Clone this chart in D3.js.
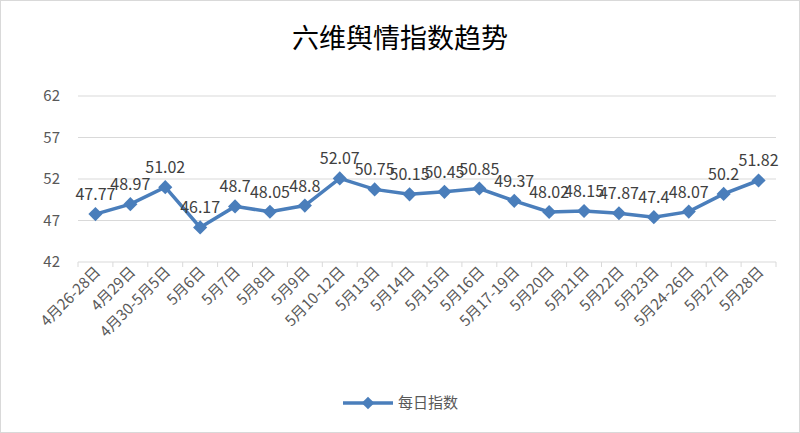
<!DOCTYPE html><html><head><meta charset="utf-8"><script src="https://cdn.jsdelivr.net/npm/d3@7"></script>
<style>body{margin:0;background:#fff}</style></head><body><svg id="c" width="800" height="433"></svg><script>
const categories=["4月26-28日","4月29日","4月30-5月5日","5月6日","5月7日","5月8日","5月9日","5月10-12日","5月13日","5月14日","5月15日","5月16日","5月17-19日","5月20日","5月21日","5月22日","5月23日","5月24-26日","5月27日","5月28日"];
const values=[47.77,48.97,51.02,46.17,48.7,48.05,48.8,52.07,50.75,50.15,50.45,50.85,49.37,48.02,48.15,47.87,47.4,48.07,50.2,51.82];
const yTicks=[42,47,52,57,62];
const svg=d3.select("#c");
const font="'Noto Sans CJK SC','Liberation Sans',sans-serif";
svg.append("rect").attr("x",0.5).attr("y",0.5).attr("width",799).attr("height",432).attr("fill","#fff").attr("stroke","#d9d9d9");
svg.append("text").attr("x",400).attr("y",48).attr("text-anchor","middle").attr("font-family",font).attr("font-size",27).attr("fill","#000").text("六维舆情指数趋势");
const x=d3.scaleBand().domain(categories).range([78,776]);
const y=d3.scaleLinear().domain([42,62]).range([262,96]);
const g=svg.append("g");
g.selectAll(".gl").data(yTicks).join("line").attr("x1",78).attr("x2",776).attr("y1",d=>y(d)).attr("y2",d=>y(d)).attr("stroke","#d9d9d9");
g.selectAll(".yl").data(yTicks).join("text").attr("x",60).attr("y",d=>y(d)+5).attr("text-anchor","end").attr("font-family",font).attr("font-size",15).attr("fill","#595959").text(d=>d);
const bounds=categories.map(c=>x(c)).concat([776]);
g.selectAll(".tk").data(bounds).join("line").attr("x1",d=>d).attr("x2",d=>d).attr("y1",262).attr("y2",267).attr("stroke","#d9d9d9");
g.selectAll(".xl").data(categories).join("text").attr("transform",c=>`translate(${x(c)+x.bandwidth()/2+6},${273}) rotate(-45)`).attr("text-anchor","end").attr("font-family",font).attr("font-size",15).attr("fill","#595959").text(c=>c);
const cx=(c)=>x(c)+x.bandwidth()/2;
g.append("path").datum(values).attr("fill","none").attr("stroke","#4a7ebb").attr("stroke-width",3.5).attr("d",d3.line().x((d,i)=>cx(categories[i])).y(d=>y(d)));
g.selectAll(".pt").data(values).join("path").attr("transform",(d,i)=>`translate(${cx(categories[i])},${y(d)}) rotate(45)`).attr("d",d3.symbol(d3.symbolSquare,100)).attr("fill","#4a7ebb");
g.selectAll(".vl").data(values).join("text").attr("x",(d,i)=>cx(categories[i])).attr("y",d=>y(d)-14).attr("text-anchor","middle").attr("font-family",font).attr("font-size",16).attr("fill","#404040").text(d=>d);
const lg=svg.append("g");
lg.append("line").attr("x1",343).attr("x2",393).attr("y1",403).attr("y2",403).attr("stroke","#4a7ebb").attr("stroke-width",3.5);
lg.append("path").attr("transform","translate(368,403) rotate(45)").attr("d",d3.symbol(d3.symbolSquare,80)).attr("fill","#4a7ebb");
lg.append("text").attr("x",398).attr("y",408).attr("font-family",font).attr("font-size",15).attr("fill","#595959").text("每日指数");
</script></body></html>
